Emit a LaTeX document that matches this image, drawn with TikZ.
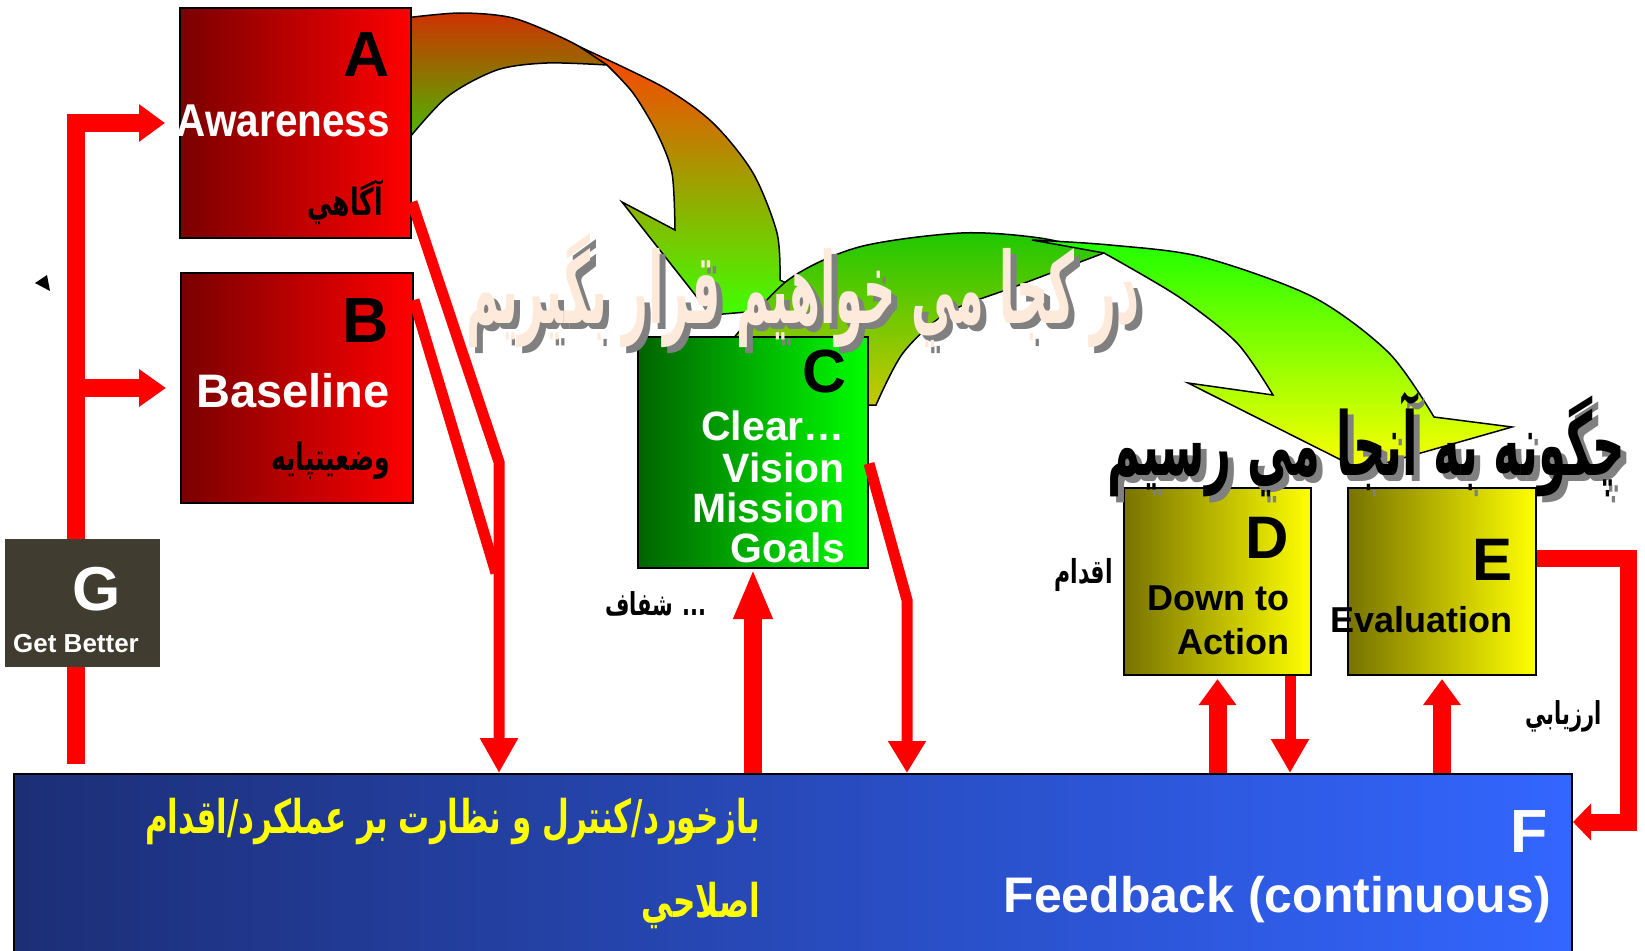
\documentclass[tikz,border=0pt]{standalone}
\usepackage{fontspec}
\usepackage{graphicx}
\setmainfont{Liberation Sans}
\newfontfamily\arabicfont[Script=Arabic]{DejaVu Sans}
\TeXXeTstate=1
\usetikzlibrary{
    arrows.meta,
    calc,
    positioning,
}
\definecolor{RedDark}{RGB}{122,0,0}
\definecolor{RedLight}{RGB}{255,0,0}
\definecolor{GreenDark}{RGB}{0,100,0}
\definecolor{GreenLight}{RGB}{0,255,0}
\definecolor{OliveDark}{RGB}{120,115,0}
\definecolor{YellowLight}{RGB}{255,255,0}
\definecolor{NavyDark}{RGB}{28,46,118}
\definecolor{NavyLight}{RGB}{51,102,255}
\definecolor{GetGray}{RGB}{64,60,48}
\definecolor{Cream}{RGB}{253,234,218}
\definecolor{Shadow}{RGB}{128,128,128}
\definecolor{CurveRedTop}{RGB}{255,64,0}
\definecolor{CurveOrange}{RGB}{230,130,0}
\definecolor{CurveGreen}{RGB}{64,255,0}
\definecolor{BackRed}{RGB}{205,50,0}
\definecolor{BackGreen}{RGB}{70,190,0}
\definecolor{BackGreenTop}{RGB}{30,200,0}
\definecolor{BackOlive}{RGB}{200,200,0}
\definecolor{FrontGreen}{RGB}{30,255,0}
\definecolor{FrontLime}{RGB}{130,255,0}
\newcommand{\fsz}[1]{\fontsize{#1}{#1}\selectfont}
\newcommand{\fatext}[1]{\scalebox{1}[1.5]{\beginR #1\endR}}
\tikzset{
    >=latex
}

\begin{document}
\begin{tikzpicture}[
    x=1pt,y=-1pt,
    box/.style={draw=black,line width=2pt,anchor=north west,inner sep=0pt},
    letter/.style={inner sep=0pt,anchor=base east,font=\bfseries\fsz{#1}},
    word/.style={inner sep=0pt,anchor=base east,font=\bfseries\fsz{#1}},
    farsi/.style={inner sep=0pt,anchor=east,font=\arabicfont\bfseries\fsz{#1}},
    title/.style={anchor=north west,inner sep=0pt,font=\arabicfont\bfseries},
    curve/.style={draw=black,line width=1.5pt},
    fat/.style={draw=red,line width=18pt},
    slim/.style={draw=red,line width=11pt},
    head/.style={-{Triangle[length=#1,width=36pt]}}
    ]
    \useasboundingbox (0,0) rectangle (1645,950);
    \clip (0,0) rectangle (1645,950);

    % curved arrows
    \shadedraw[curve,top color=BackRed,bottom color=BackGreen]
        plot[smooth] coordinates {(405,18) (460,13) (513,18) (567,40) (602,60)}
        -- plot[smooth] coordinates {(607,65) (547,63) (497,70) (447,97) (405,143)} -- cycle;
    \shadedraw[curve,top color=CurveRedTop,middle color=CurveOrange,bottom color=CurveGreen]
        plot[smooth] coordinates {(580,47) (663,87) (713,123) (753,173) (777,233) (780,280)}
        -- (831,305) -- (711,315) -- (622,202)
        -- plot[smooth] coordinates {(675,230) (672,173) (657,133) (633,93) (607,65)} -- cycle;
    \shadedraw[curve,top color=BackGreenTop,bottom color=BackOlive]
        plot[smooth] coordinates {(732,340) (788,280) (859,247) (961,233) (1040,238) (1104,253)}
        -- plot[smooth] coordinates {(1104,253) (1014,287) (947,313) (903,353) (876,405)} -- (860,405) -- cycle;
    \shadedraw[curve,top color=FrontGreen,middle color=FrontLime,bottom color=YellowLight]
        plot[smooth] coordinates {(1032,240) (1110,245) (1202,257) (1313,297) (1389,353) (1434,417)}
        -- (1512,427) -- (1361,470) -- (1188,383)
        -- plot[smooth] coordinates {(1273,395) (1237,343) (1179,297) (1104,253)} -- cycle;

    % boxes
    \node[box,left color=RedDark,right color=RedLight,minimum width=231pt,minimum height=230pt] (Abox) at (179,7) {};
    \node[box,left color=RedDark,right color=RedLight,minimum width=232pt,minimum height=230pt] (Bbox) at (180,272) {};
    \node[box,left color=GreenDark,right color=GreenLight,minimum width=230pt,minimum height=231pt] (Cbox) at (637,336) {};
    \node[box,left color=OliveDark,right color=YellowLight,minimum width=187pt,minimum height=187pt] (Dbox) at (1123,487) {};
    \node[box,left color=OliveDark,right color=YellowLight,minimum width=188pt,minimum height=187pt] (Ebox) at (1347,487) {};
    \node[box,left color=NavyDark,right color=NavyLight,minimum width=1558pt,minimum height=190pt] (Fbox) at (13,773) {};

    % red connectors
    \coordinate (gbase) at (75.5,764);
    \coordinate (abend) at (499,462);
    \coordinate (bjoin) at (496,573);
    \coordinate (cbend) at (907,600);
    \coordinate (eout) at (1628,558);
    \coordinate (fin) at (1628,822);
    \draw[fat,head=26pt] (gbase) -- (gbase |- Abox.west) -- ([xshift=-14pt]Abox.west);
    \draw[fat,head=27pt] (gbase |- Bbox.west) -- ([xshift=-14pt]Bbox.west);
    \draw[slim,head=35pt] ([yshift=37pt]Abox.south east) -- (abend) -- (abend |- Fbox.north);
    \draw[slim] ([yshift=-28pt]Bbox.north east) -- (bjoin);
    \draw[slim,head=32pt] ([yshift=-11pt]Cbox.east) -- (cbend) -- (cbend |- Fbox.north);
    \draw[fat,head=50pt] (Cbox.south |- Fbox.north) -- (Cbox.south);
    \draw[fat,head=26pt] (Dbox.south |- Fbox.north) -- ([yshift=-3pt]Dbox.south);
    \draw[slim,head=34pt] ([xshift=-22pt]Dbox.south east) -- ([xshift=-22pt]Dbox.south east |- Fbox.north);
    \draw[fat,head=26pt] (Ebox.south |- Fbox.north) -- ([yshift=-3pt]Ebox.south);
    \draw[fat,line width=17pt,head=18pt] (Ebox.east |- eout) -- (eout) -- (fin) -- (Fbox.east |- fin);
    \fill (35,283) -- (47,275) -- (50,291) -- cycle;

    \node[anchor=north west,fill=GetGray,minimum width=155pt,minimum height=128pt,inner sep=0pt] (Gbox) at (5,539) {};

    % box texts
    \node[letter=64] (Aname) at (390,76) {A};
    \node[word=46,text=white] (Aword) at (390,136) {\scalebox{0.88}[1]{Awareness}};
    \node[farsi=25] (Afarsi) at (383,202) {\fatext{آگاهي}};

    \node[letter=64] (Bname) at (389,342) {B};
    \node[word=47,text=white] (Bword) at (390,407) {Baseline};
    \node[farsi=25] (Bfarsi) at (390,461) {\fatext{وضعيتپايه}};

    \node[letter=61] (Cname) at (847,392) {C};
    \node[word=41,text=white] (Cline1) at (845,440) {Clear…};
    \node[word=41,text=white] (Cline2) at (845,482) {Vision};
    \node[word=41,text=white] (Cline3) at (845,522) {Mission};
    \node[word=41,text=white] (Cline4) at (845,562) {Goals};
    \node[farsi=21] (Cfarsi) at (707,604) {\fatext{... شفاف}};

    \node[letter=60] (Dname) at (1289,558) {D};
    \node[word=36] (Dline1) at (1290,610) {Down to};
    \node[word=36] (Dline2) at (1290,654) {Action};
    \node[farsi=22] (Dfarsi) at (1113,575) {\fatext{اقدام}};

    \node[letter=60] (Ename) at (1513,580) {E};
    \node[word=36] (Eword) at (1513,632) {Evaluation};
    \node[farsi=21] (Efarsi) at (1602,716) {\fatext{ارزيابي}};

    \node[letter=61,text=white] (Fname) at (1548,852) {F};
    \node[word=50,text=white] (Fword) at (1551,912) {Feedback (continuous)};
    \node[farsi=31,text=YellowLight] (Ffarsi1) at (760,822) {\fatext{بازخورد/کنترل و نظارت بر عملکرد/اقدام}};
    \node[farsi=31,text=YellowLight] (Ffarsi2) at (760,905) {\fatext{اصلاحي}};

    \node[letter=62,text=white] (Gname) at (121,610) {G};
    \node[word=26,text=white,anchor=base west] (Gword) at (13,652) {Get Better};

    % titles
    \node[title,text=Shadow] (whereShadow) at (472,239) {\resizebox*{673pt}{114pt}{\beginR در کجا مي خواهيم قرار بگيريم\endR}};
    \node[title,text=Cream] (where) at (466,233) {\resizebox*{673pt}{114pt}{\beginR در کجا مي خواهيم قرار بگيريم\endR}};
    \node[title,text=Shadow] (howShadow) at (1113,398) {\resizebox*{518pt}{105pt}{\beginR چگونه به آنجا مي رسيم\endR}};
    \node[title,text=black] (how) at (1107,392) {\resizebox*{518pt}{105pt}{\beginR چگونه به آنجا مي رسيم\endR}};
\end{tikzpicture}
\end{document}
